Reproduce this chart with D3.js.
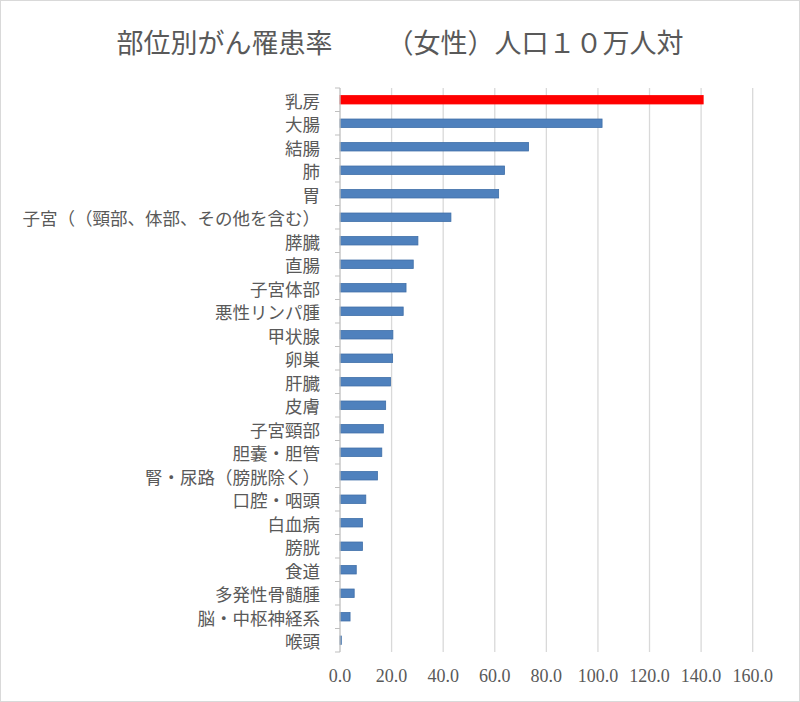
<!DOCTYPE html>
<html lang="ja">
<head>
  <meta charset="UTF-8">
  <title>部位別がん罹患率（女性）</title>
  <script src="https://d3js.org/d3.v7.min.js"></script>
  <style>
    body {
      margin: 0;
      padding: 0;
      background: #fff;
    }
    svg text {
      fill: #595959;
      text-spacing-trim: space-all;
    }
    .title {
      font-family: "Noto Sans CJK JP", sans-serif;
      font-size: 27px;
    }
    .cat-label {
      font-family: "Noto Sans CJK JP", sans-serif;
      font-size: 17.5px;
    }
    .tick-label {
      font-family: "Liberation Serif", "DejaVu Serif", serif;
      font-size: 18px;
    }
  </style>
</head>
<body>
  <div id="chart"></div>

  <script>
    // Sites (top to bottom) and incidence per 100k women
    const sites = [
      "乳房", "大腸", "結腸", "肺", "胃",
      "子宮（（頸部、体部、その他を含む）", "膵臓", "直腸", "子宮体部", "悪性リンパ腫",
      "甲状腺", "卵巣", "肝臓", "皮膚", "子宮頸部",
      "胆嚢・胆管", "腎・尿路（膀胱除く）", "口腔・咽頭", "白血病", "膀胱",
      "食道", "多発性骨髄腫", "脳・中枢神経系", "喉頭"
    ];
    const rates = [
      140.8, 101.6, 73.1, 63.8, 61.5,
      43.0, 30.2, 28.4, 25.6, 24.5,
      20.5, 20.4, 19.6, 17.7, 16.8,
      16.2, 14.5, 10.0, 8.7, 8.7,
      6.3, 5.5, 3.9, 0.5
    ];
    const xTicks = [0, 20, 40, 60, 80, 100, 120, 140, 160];
    const highlight = "乳房";

    const width = 800, height = 702;
    const margin = { top: 88, right: 47, bottom: 50, left: 340 };

    const svg = d3.select("#chart").append("svg")
      .attr("width", width)
      .attr("height", height);

    // outer frame
    svg.append("rect")
      .attr("x", 0.5).attr("y", 0.5)
      .attr("width", width - 1).attr("height", height - 1)
      .attr("fill", "#fff")
      .attr("stroke", "#d9d9d9");

    svg.append("text")
      .attr("class", "title")
      .attr("x", width / 2)
      .attr("y", 53)
      .attr("text-anchor", "middle")
      .text("部位別がん罹患率　　（女性）人口１０万人対");

    const x = d3.scaleLinear()
      .domain([0, 160])
      .range([margin.left, 752.7]);

    const y = d3.scaleBand()
      .domain(sites)
      .range([margin.top, 652])
      .paddingInner(0.64)
      .paddingOuter(0.32);

    // gridlines
    svg.append("g")
      .selectAll("line")
      .data(xTicks.slice(1))
      .join("line")
      .attr("x1", d => x(d)).attr("x2", d => x(d))
      .attr("y1", margin.top).attr("y2", 652)
      .attr("stroke", "#d9d9d9")
      .attr("stroke-width", 1.3);

    // tick labels
    svg.append("g")
      .selectAll("text")
      .data(xTicks)
      .join("text")
      .attr("class", "tick-label")
      .attr("x", d => x(d))
      .attr("y", 682)
      .attr("text-anchor", "middle")
      .text(d => d3.format(".1f")(d));

    // bars
    svg.append("g")
      .selectAll("rect")
      .data(sites.map((s, i) => ({ site: s, value: rates[i] })))
      .join("rect")
      .attr("x", x(0))
      .attr("y", d => y(d.site))
      .attr("width", d => x(d.value) - x(0))
      .attr("height", y.bandwidth())
      .attr("fill", d => d.site === highlight ? "#ff0000" : "#4f81bd")
      .attr("stroke", d => d.site === highlight ? "#ff0000" : "#3f6fa8")
      .attr("stroke-width", 0.8);

    // category axis
    const axisG = svg.append("g");
    axisG.append("line")
      .attr("x1", x(0)).attr("x2", x(0))
      .attr("y1", margin.top).attr("y2", 652)
      .attr("stroke", "#bfbfbf")
      .attr("stroke-width", 1.3);
    axisG.selectAll(".tk")
      .data(d3.range(sites.length + 1))
      .join("line")
      .attr("class", "tk")
      .attr("x1", x(0) - 5).attr("x2", x(0))
      .attr("y1", i => margin.top + i * (652 - margin.top) / sites.length)
      .attr("y2", i => margin.top + i * (652 - margin.top) / sites.length)
      .attr("stroke", "#bfbfbf");

    axisG.selectAll(".cat-label")
      .data(sites)
      .join("text")
      .attr("class", "cat-label")
      .attr("x", 320)
      .attr("y", d => y(d) + y.bandwidth() / 2 + 2)
      .attr("dy", "0.35em")
      .attr("text-anchor", "end")
      .text(d => d);
  </script>
</body>
</html>
